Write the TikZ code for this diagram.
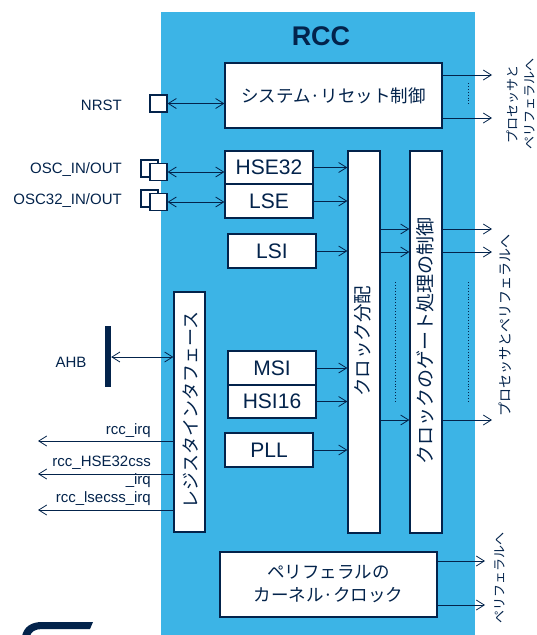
\documentclass[tikz,border=0pt]{standalone}
\usepackage{fontspec}
\setmainfont{Liberation Sans}
\newfontfamily\jp{Noto Sans CJK JP}
\usetikzlibrary{arrows.meta,calc}
\definecolor{rccblue}{HTML}{3CB4E6}
\definecolor{navy}{HTML}{03234B}
\begin{document}
\begin{tikzpicture}[x=1pt,y=-1pt,
  blk/.style={draw=navy,line width=1.3pt,fill=white,inner sep=0pt,text=navy},
  pad/.style={draw=navy,line width=1.2pt,fill=white,inner sep=0pt,minimum width=17pt,minimum height=17pt},
  ln/.style={draw=navy,line width=0.8pt},
  arr/.style={ln,-{Straight Barb[length=8pt,width=10pt]}},
  darr/.style={ln,{Straight Barb[length=8pt,width=10pt]}-{Straight Barb[length=8pt,width=10pt]}},
  lbl/.style={text=navy,font=\fontsize{15}{18}\selectfont,inner sep=0pt},
  boxfont/.style={font=\fontsize{21}{24}\selectfont},
  jpbox/.style={font=\jp\fontsize{17.5}{23}\selectfont},
  vtxt/.style={rotate=90,text=navy,inner sep=0pt,font=\jp\fontsize{18.5}{20}\selectfont},
  side/.style={rotate=90,text=navy,inner sep=0pt,align=center},
  dots/.style={draw=navy,dotted,line width=0.9pt}
]
\useasboundingbox (0,0) rectangle (537,635);
\fill[rccblue] (161,12) rectangle (475,635);

% title
\node[text=navy,font=\bfseries\fontsize{27}{30}\selectfont,anchor=base,inner sep=0pt] (title) at (321,45) {RCC};

% main blocks
\node[blk,jpbox,minimum width=217pt,minimum height=65pt] (sys) at (333.5,95.5) {システム·リセット制御};
\node[blk,boxfont,minimum width=88pt,minimum height=33pt] (hse) at (269,167.5) {HSE32};
\node[blk,boxfont,minimum width=88pt,minimum height=34pt] (lse) at (269,201) {LSE};
\node[blk,boxfont,minimum width=88pt,minimum height=34pt] (lsi) at (272,251) {LSI};
\node[blk,boxfont,minimum width=88pt,minimum height=34pt] (msi) at (272,368) {MSI};
\node[blk,boxfont,minimum width=88pt,minimum height=33pt] (hsi) at (272,401.5) {HSI16};
\node[blk,boxfont,minimum width=88pt,minimum height=34pt] (pll) at (269,450) {PLL};
\node[blk,minimum width=32pt,minimum height=382pt] (clk) at (364,342) {};
\node[blk,minimum width=32pt,minimum height=382pt] (gate) at (426,342) {};
\node[blk,minimum width=31pt,minimum height=240pt] (reg) at (189.5,412) {};
\node[blk,jpbox,align=center,minimum width=217pt,minimum height=65pt] (per) at (328.5,584.5) {ペリフェラルの\\カーネル·クロック};

\node[vtxt] (clkt) at (363,341) {クロック分配};
\node[vtxt,font=\jp\fontsize{19}{20}\selectfont] (gatet) at (425,341) {クロックのゲート処理の制御};
\node[vtxt,font=\jp\fontsize{18}{20}\selectfont] (regt) at (191,410) {レジスタインタフェース};

% pads
\node[pad] (nrst) at (158.5,103.5) {};
\node[pad] (oscb) at (149.5,168.5) {};
\node[pad] (osc) at (158.5,172) {};
\node[pad] (osc32b) at (149.5,198.5) {};
\node[pad] (osc32) at (158.5,202) {};
\node[fill=navy,inner sep=0pt,minimum width=6pt,minimum height=61pt] (ahb) at (108,356.5) {};

% left labels
\node[lbl,anchor=base east] (nrstl) at (122,110) {NRST};
\node[lbl,anchor=base east] (oscl) at (122,173) {OSC\_IN/OUT};
\node[lbl,anchor=base east] (osc32l) at (122,204) {OSC32\_IN/OUT};
\node[lbl,anchor=base] (ahbl) at (71,367) {AHB};
\node[lbl,anchor=base east] (irq1) at (151,434) {rcc\_irq};
\node[lbl,anchor=base east] (irq2) at (151,466) {rcc\_HSE32css};
\node[lbl,anchor=base east] (irq2b) at (151,484) {\_irq};
\node[lbl,anchor=base east] (irq3) at (151,502) {rcc\_lsecss\_irq};

% right labels
\node[side,font=\jp\fontsize{13}{17}\selectfont] (out1) at (520.5,104) {プロセッサと\\ペリフェラルへ};
\node[side,font=\jp\fontsize{14}{17}\selectfont] (out2) at (505,325) {プロセッサとペリフェラルへ};
\node[side,font=\jp\fontsize{13}{17}\selectfont] (out3) at (500,578) {ペリフェラルへ};

% helper coordinates
\coordinate (rx) at (492,0);
\coordinate (px) at (485,0);
\coordinate (lx) at (38,0);
\coordinate (s1) at (0,75);
\coordinate (s2) at (0,118);
\coordinate (g1) at (0,229);
\coordinate (g2) at (0,252);
\coordinate (g3) at (0,420);
\coordinate (p1) at (0,561);
\coordinate (p2) at (0,605);
\coordinate (a1) at (0,357);
\coordinate (q1) at (0,441);
\coordinate (q2) at (0,474);
\coordinate (q3) at (0,510);

% connectors
\draw[darr] (nrst.east) -- (nrst.east -| sys.west);
\draw[darr] (osc.east) -- (osc.east -| hse.west);
\draw[darr] (osc32.east) -- (osc32.east -| lse.west);
\draw[darr] (ahb.east |- a1) -- (reg.west |- a1);

\draw[arr] (sys.east |- s1) -- (rx |- s1);
\draw[arr] (sys.east |- s2) -- (rx |- s2);

\draw[arr] (hse.east) -- (hse.east -| clk.west);
\draw[arr] (lse.east) -- (lse.east -| clk.west);
\draw[arr] (lsi.east) -- (lsi.east -| clk.west);
\draw[arr] (msi.east) -- (msi.east -| clk.west);
\draw[arr] (hsi.east) -- (hsi.east -| clk.west);
\draw[arr] (pll.east) -- (pll.east -| clk.west);

\draw[arr] (clk.east |- g1) -- (gate.west |- g1);
\draw[arr] (clk.east |- g2) -- (gate.west |- g2);
\draw[arr] (clk.east |- g3) -- (gate.west |- g3);
\draw[arr] (gate.east |- g1) -- (rx |- g1);
\draw[arr] (gate.east |- g2) -- (rx |- g2);
\draw[arr] (gate.east |- g3) -- (rx |- g3);

\draw[arr] (per.east |- p1) -- (px |- p1);
\draw[arr] (per.east |- p2) -- (px |- p2);

\draw[arr] (reg.west |- q1) -- (lx |- q1);
\draw[arr] (reg.west |- q2) -- (lx |- q2);
\draw[arr] (reg.west |- q3) -- (lx |- q3);

% dotted lines
\draw[dots] (468,83) -- (468,106);
\draw[dots] (395,282) -- (395,402);
\draw[dots] (468,282) -- (468,402);

% logo fragment
\fill[navy] (93,622) -- (90,629) -- (42,629) .. controls (35,629) and (31,632) .. (30,636) -- (22,636) .. controls (24,627) and (31,622) .. (42,622) -- cycle;
\end{tikzpicture}
\end{document}
